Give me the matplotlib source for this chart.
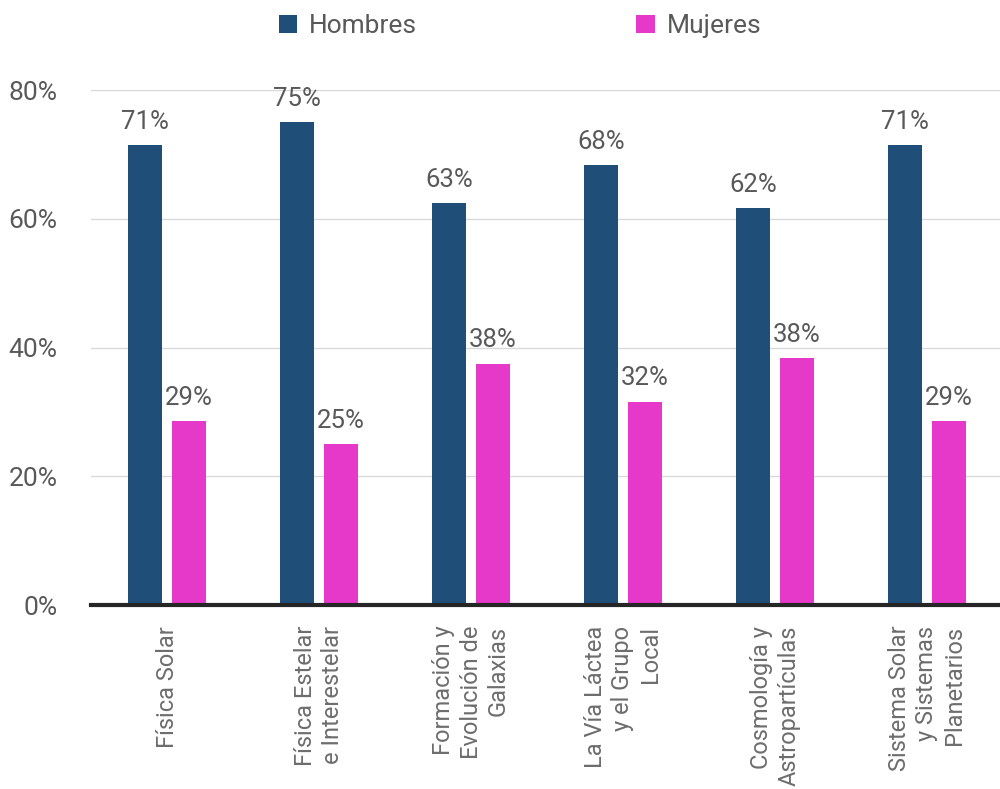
import matplotlib.pyplot as plt
import numpy as np

plt.rcParams['font.family'] = ['Roboto', 'DejaVu Sans']

# data
categorias = ['Física Solar', 'Física Estelar\ne Interestelar', 'Formación y\nEvolución de\nGalaxias',
              'La Vía Láctea\ny el Grupo\nLocal', 'Cosmología y\nAstropartículas',
              'Sistema Solar\ny Sistemas\nPlanetarios']
hombres = [71.4, 75.0, 62.5, 68.4, 61.6, 71.4]
mujeres = [28.6, 25.0, 37.5, 31.6, 38.4, 28.6]

col_h = '#1F4E79'
col_m = '#E639CA'
gris = '#595959'

fig = plt.figure(figsize=(10, 7.89), dpi=100)
ax = fig.add_axes([0.091, 0.2332, 0.912, 0.6527])

x = np.arange(len(categorias))
w = 0.224
off = 0.145
b1 = ax.bar(x - off, hombres, w, color=col_h, label='Hombres', zorder=3)
b2 = ax.bar(x + off, mujeres, w, color=col_m, label='Mujeres', zorder=3)

for bars, vals in [(b1, hombres), (b2, mujeres)]:
    for b, v in zip(bars, vals):
        # round half up, like the original labels
        ax.annotate(f'{int(v + 0.5)}%', (b.get_x() + b.get_width() / 2, v), xytext=(0, 8),
                    textcoords='offset points', ha='center', va='bottom',
                    fontsize=18.5, color=gris, annotation_clip=False)

ax.set_xlim(-0.5, 5.5)
ax.set_ylim(0, 80)
ax.set_yticks([0, 20, 40, 60, 80])
ax.set_yticklabels(['0%', '20%', '40%', '60%', '80%'])
ax.yaxis.grid(True, color='#d9d9d9', linewidth=1, zorder=0)
ax.tick_params(axis='y', length=0, labelsize=19, labelcolor=gris, pad=24)
ax.tick_params(axis='x', length=0, pad=15)
ax.set_xticks(x)
ax.set_xticklabels(categorias, rotation=90, fontsize=17, color='#6d6d6d',
                   ha='center', va='top', multialignment='right', linespacing=1.25)

for s in ['top', 'right', 'left']:
    ax.spines[s].set_visible(False)
ax.spines['bottom'].set_linewidth(3)
ax.spines['bottom'].set_color('#262626')
ax.spines['bottom'].set_zorder(4)

fig.legend(handles=[b1, b2], labels=['Hombres', 'Mujeres'], loc='upper center',
           bbox_to_anchor=(0.52, 1.012), ncol=2, frameon=False, fontsize=19,
           handlelength=0.7, handleheight=0.7, handletextpad=0.45, columnspacing=8.3,
           labelcolor=gris)

plt.savefig('out.png', dpi=100)
